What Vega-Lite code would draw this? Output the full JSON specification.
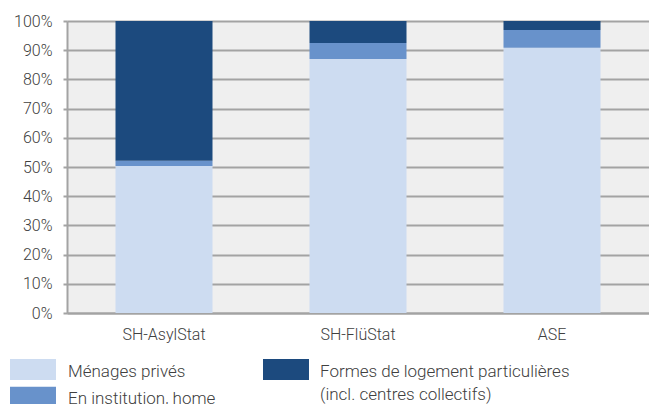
{
  "$schema": "https://vega.github.io/schema/vega-lite/v6.json",
  "autosize": "none",
  "width": 582,
  "height": 292,
  "padding": {"left": 67, "top": 21, "right": 0, "bottom": 91},
  "background": "white",
  "data": {
    "values": [
      {"source": "SH-AsylStat", "type": "Ménages privés", "ordre": 1, "pct": 50.3},
      {"source": "SH-AsylStat", "type": "En institution, home", "ordre": 2, "pct": 1.8},
      {"source": "SH-AsylStat", "type": "Formes de logement particulières (incl. centres collectifs)", "ordre": 3, "pct": 47.9},
      {"source": "SH-FlüStat", "type": "Ménages privés", "ordre": 1, "pct": 87.0},
      {"source": "SH-FlüStat", "type": "En institution, home", "ordre": 2, "pct": 5.5},
      {"source": "SH-FlüStat", "type": "Formes de logement particulières (incl. centres collectifs)", "ordre": 3, "pct": 7.5},
      {"source": "ASE", "type": "Ménages privés", "ordre": 1, "pct": 90.8},
      {"source": "ASE", "type": "En institution, home", "ordre": 2, "pct": 6.1},
      {"source": "ASE", "type": "Formes de logement particulières (incl. centres collectifs)", "ordre": 3, "pct": 3.1}
    ]
  },
  "encoding": {
    "x": {
      "field": "source",
      "type": "nominal",
      "sort": ["SH-AsylStat", "SH-FlüStat", "ASE"],
      "scale": {"paddingInner": 0.5, "paddingOuter": 0.25},
      "axis": {
        "title": null,
        "labelAngle": 0,
        "ticks": false,
        "tickSize": 0,
        "labelPadding": 13,
        "domainColor": "#a3a3a3",
        "domainWidth": 2,
        "grid": false
      }
    },
    "y": {
      "field": "pct",
      "type": "quantitative",
      "stack": true,
      "scale": {"domain": [0, 100], "nice": false},
      "axis": {
        "title": null,
        "values": [0, 10, 20, 30, 40, 50, 60, 70, 80, 90, 100],
        "labelExpr": "datum.value + '%'",
        "tickSize": 4,
        "tickColor": "#a3a3a3",
        "tickWidth": 2,
        "labelPadding": 11,
        "domainColor": "#a3a3a3",
        "domainWidth": 2,
        "gridColor": "#a3a3a3",
        "gridWidth": 2
      }
    },
    "order": {"field": "ordre", "type": "quantitative"}
  },
  "layer": [
    {
      "mark": {"type": "bar"},
      "encoding": {
        "color": {
          "field": "type",
          "type": "nominal",
          "scale": {
            "domain": ["Ménages privés", "En institution, home", "Formes de logement particulières (incl. centres collectifs)"],
            "range": ["#cddcf1", "#6892cb", "#1c4a7e"]
          },
          "legend": {
            "orient": "none",
            "direction": "vertical",
            "legendX": -57,
            "legendY": 338,
            "title": null,
            "values": ["Ménages privés", "En institution, home"],
            "rowPadding": 6.7,
            "padding": 0,
            "symbolType": "M-2.19,-1H2.19V1H-2.19Z",
            "symbolSize": 441,
            "symbolOffset": 12.5,
            "symbolStrokeWidth": 0,
            "symbolOpacity": 1,
            "labelOffset": 24.5,
            "labelLimit": 400,
            "labelBaseline": "alphabetic",
            "encode": {"labels": {"update": {"dy": {"value": 7}}}}
          }
        }
      }
    },
    {
      "mark": {"type": "bar", "fillOpacity": 0, "strokeWidth": 0},
      "encoding": {
        "fill": {
          "field": "type",
          "type": "nominal",
          "scale": {
            "domain": ["Formes de logement particulières (incl. centres collectifs)"],
            "range": ["#1c4a7e"]
          },
          "legend": {
            "orient": "none",
            "direction": "vertical",
            "legendX": 196,
            "legendY": 338,
            "title": null,
            "values": ["Formes de logement particulières (incl. centres collectifs)"],
            "padding": 0,
            "symbolType": "M-2.19,-1H2.19V1H-2.19Z",
            "symbolSize": 441,
            "symbolOffset": 12.5,
            "symbolStrokeWidth": 0,
            "symbolOpacity": 1,
            "labelOffset": 23.5,
            "labelLimit": 400,
            "labelBaseline": "alphabetic",
            "labelExpr": "['Formes de logement particulières', '(incl. centres collectifs)']",
            "encode": {
              "labels": {"update": {"dy": {"value": 7}, "lineHeight": {"value": 23}}},
              "symbols": {"update": {"fillOpacity": {"value": 1}, "opacity": {"value": 1}}}
            }
          }
        }
      }
    }
  ],
  "config": {
    "view": {"fill": "#efefef", "stroke": null},
    "font": "Roboto",
    "axis": {
      "labelFont": "Roboto",
      "labelFontSize": 16,
      "labelColor": "#404040",
      "labelFontWeight": 300
    },
    "legend": {
      "labelFont": "Roboto",
      "labelFontSize": 17,
      "labelColor": "#404040",
      "labelFontWeight": 300
    }
  }
}
